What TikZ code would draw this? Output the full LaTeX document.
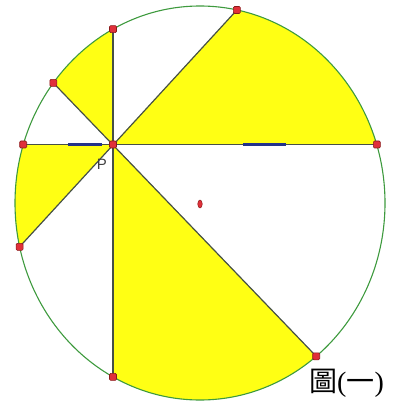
\documentclass[tikz,border=0pt]{standalone}
\usepackage{fontspec}
\newfontfamily\cjk{Noto Sans CJK TC}
\newfontfamily\lsans{Liberation Sans}
\newfontfamily\lserif{Liberation Serif}
\usetikzlibrary{calc,shapes.geometric}
\definecolor{ylw}{HTML}{FFFF14}
\definecolor{circ}{HTML}{3E9A3E}
\definecolor{chord}{HTML}{465046}
\definecolor{dotred}{HTML}{E0303A}
\definecolor{dotedge}{HTML}{8A1A1A}
\definecolor{bluemark}{HTML}{23338A}
\tikzset{
  ptdot/.style={rectangle, rounded corners=1.2pt, fill=dotred, draw=dotedge, line width=0.6pt, minimum size=7pt, inner sep=0pt},
  chordline/.style={draw=chord, line width=1.2pt},
  rim/.style={draw=circ, line width=1.1pt},
  blueseg/.style={draw=bluemark, line width=2.2pt},
}
\begin{document}
\begin{tikzpicture}[x=1pt,y=-1pt]
\useasboundingbox (0,0) rectangle (394,403);
\coordinate (C) at (200,203);
\coordinate (P) at (113,144.5);
\coordinate (T) at (113,29.1);
\coordinate (B) at (113,376.9);
\coordinate (L) at (23.2,144.5);
\coordinate (R) at (376.8,144.5);
\coordinate (UL) at (53.3,82.9);
\coordinate (LR) at (316.2,356.3);
\coordinate (TR) at (236.9,10.0);
\coordinate (LL) at (19.6,246.8);
% yellow sectors
\begin{scope}
  \clip (C) ellipse [x radius=185pt, y radius=197pt];
  \fill[ylw] (P) -- ($(P)!3!(T)$) -- ($(P)!3!(UL)$) -- cycle;
  \fill[ylw] (P) -- ($(P)!3!(L)$) -- ($(P)!3!(LL)$) -- cycle;
  \fill[ylw] (P) -- ($(P)!3!(TR)$) -- ($(P)!3!(R)$) -- cycle;
  \fill[ylw] (P) -- ($(P)!3!(B)$) -- ($(P)!3!(LR)$) -- cycle;
\end{scope}
\draw[rim] (C) ellipse [x radius=185pt, y radius=197pt];
% chords
\draw[chordline] (T) -- (B);
\draw[chordline] (L) -- (R);
\draw[chordline] (UL) -- (LR);
\draw[chordline] (TR) -- (LL);
% blue marks on horizontal chord
\coordinate (b1) at (68,144.5);
\coordinate (b2) at (102,144.5);
\coordinate (b3) at (243,144.5);
\coordinate (b4) at (286,144.5);
\draw[blueseg] (b1) -- (b2);
\draw[blueseg] (b3) -- (b4);
\coordinate (tk) at (113,132);
\draw[chord, line width=1.6pt] (tk) -- (P);
% points
\node[ptdot] (nP) at (P) {};
\node[ptdot] (nT) at (T) {};
\node[ptdot] (nB) at (B) {};
\node[ptdot] (nL) at (L) {};
\node[ptdot] (nR) at (R) {};
\node[ptdot] (nUL) at (UL) {};
\node[ptdot] (nLR) at (LR) {};
\node[ptdot] (nTR) at (TR) {};
\node[ptdot] (nLL) at (LL) {};
\node[ellipse, fill=dotred, draw=dotedge, line width=0.5pt, minimum width=4.5pt, minimum height=8pt, inner sep=0pt] (O) at (200,204) {};
% labels
\node[text=black!75, inner sep=0pt] (lblP) at (102,164.5) {\lsans\fontsize{15}{15}\selectfont P};
\node[inner sep=0pt] (cap) at (346.5,383.5) {\fontsize{28}{28}\selectfont\cjk 圖\lserif(\cjk 一\lserif)};
\end{tikzpicture}
\end{document}
